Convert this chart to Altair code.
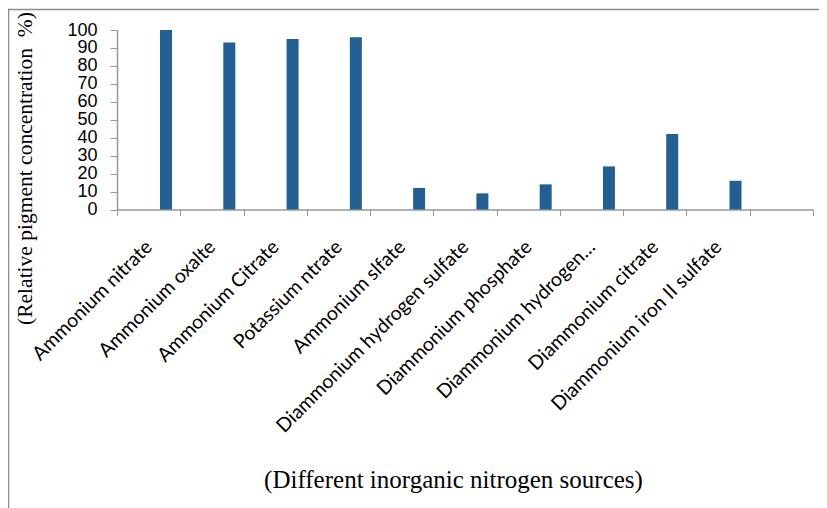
import altair as alt
import pandas as pd

categories = [
    "Ammonium nitrate",
    "Ammonium oxalte",
    "Ammonium Citrate",
    "Potassium ntrate",
    "Ammonium slfate",
    "Diammonium hydrogen sulfate",
    "Diammonium phosphate",
    "Diammonium hydrogen…",
    "Diammonium citrate",
    "Diammonium iron II sulfate",
]
values = [100, 93, 95, 96, 12, 9, 14, 24, 42, 16]
domain = categories + [" "]

df = pd.DataFrame({"source": categories, "value": values})
one = pd.DataFrame({"a": [0]})

W, H = 696, 179.5
grey = "#999999"

bars = alt.Chart(df).mark_bar(width=12, xOffset=17.4, color="#245F91").encode(
    x=alt.X(
        "source:N",
        sort=domain,
        scale=alt.Scale(domain=domain, paddingInner=0, paddingOuter=0),
        axis=alt.Axis(
            title="(Different inorganic nitrogen sources)",
            titleFont="Liberation Serif",
            titleFontSize=25,
            titleFontWeight="normal",
            titleColor="black",
            titleX=336,
            titleY=277.5,
            titleAlign="center",
            titleBaseline="alphabetic",
            labelAngle=-45,
            labelAlign="right",
            labelBaseline="middle",
            labelFont="Lato",
            labelFontSize=19.5,
            labelColor="black",
            labelPadding=28,
            labelLimit=500,
            labelOverlap=False,
            tickBand="extent",
            tickSize=6,
            tickColor=grey,
            domainColor=grey,
            domainWidth=1.5,
            grid=False,
        ),
    ),
    y=alt.Y(
        "value:Q",
        scale=alt.Scale(domain=[0, 100], nice=False),
        axis=alt.Axis(
            values=list(range(0, 101, 10)),
            title="(Relative pigment concentration\u00a0 %)",
            titleFont="Liberation Serif",
            titleFontSize=21.5,
            titleFontWeight="normal",
            titleColor="black",
            titleAngle=-90,
            titleX=-92,
            titleY=138,
            titleAlign="center",
            titleBaseline="middle",
            labelFont="Liberation Sans",
            labelFontSize=18,
            labelColor="black",
            labelPadding=13,
            labelOverlap=False,
            tickSize=7,
            tickColor=grey,
            domainColor=grey,
            domainWidth=1.5,
            grid=False,
        ),
    ),
)

frame_top = alt.Chart(one).mark_rule(color="#8c8c8c", strokeWidth=1.5).encode(
    x=alt.value(-108.5), x2=alt.value(709), y=alt.value(-20.5)
)
frame_left = alt.Chart(one).mark_rule(color="#8c8c8c", strokeWidth=1.5).encode(
    x=alt.value(-108.5), y=alt.value(-21.25), y2=alt.value(480)
)

chart = alt.layer(bars, frame_top, frame_left).properties(
    width=W,
    height=H,
    autosize=alt.AutoSizeParams(type="none"),
    padding={"left": 109, "top": 22, "right": 6, "bottom": 298},
).configure_view(stroke=None)

chart.save("out.html", embed_options={"renderer": "svg", "actions": False})
